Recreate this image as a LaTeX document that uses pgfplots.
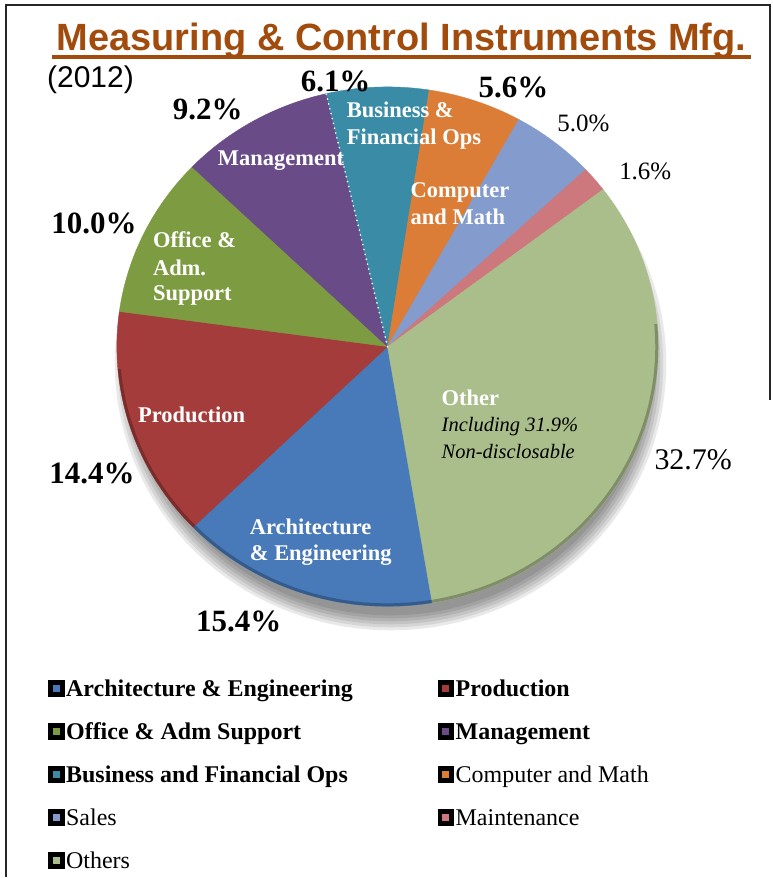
\documentclass[border=0pt]{standalone}
\usepackage{pgfplots}
\pgfplotsset{compat=1.18}
\usepackage{fontspec}
\setmainfont{Liberation Serif}
\newfontfamily\arialfont{Liberation Sans}

\definecolor{archblue}{HTML}{487AB9}
\definecolor{prodred}{HTML}{A33C3A}
\definecolor{officegreen}{HTML}{7D9B41}
\definecolor{mgmtpurple}{HTML}{694B87}
\definecolor{bizteal}{HTML}{3A8CA6}
\definecolor{comporange}{HTML}{DC7D37}
\definecolor{salesblue}{HTML}{839BCD}
\definecolor{maintpink}{HTML}{CD787D}
\definecolor{othergreen}{HTML}{AABE8C}
\definecolor{titlecol}{HTML}{A14B0C}

\newcommand{\fsz}[1]{\fontsize{#1pt}{#1pt}\selectfont}
% legend key: black square with a small coloured square inside
\newcommand{\legsq}[3]{%
  \fill[black] (axis cs:#1-8.5,#2-8.5) rectangle (axis cs:#1+8.5,#2+8.5);
  \fill[#3] (axis cs:#1-3.5,#2-3.5) rectangle (axis cs:#1+3.5,#2+3.5);}

\begin{document}
\begin{tikzpicture}[every node/.append style={inner sep=0pt}]
\begin{axis}[x=1pt, y=1pt, xmin=0, xmax=773, ymin=0, ymax=878,
    y dir=reverse, hide axis, clip=false]
\path (axis cs:0,0) rectangle (axis cs:773,878);

% frame
\draw[line width=2pt, black!85] (axis cs:6,878) -- (axis cs:6,5.5)
  -- (axis cs:771,5.5) -- (axis cs:771,400);

% soft shadow under the pie
\pgfplotsinvokeforeach{0,3,6,9,12,15}{
  \fill[black, opacity=0.085] (axis cs:391,364)
    ellipse [x radius={(276-#1)*1pt}, y radius={(267-#1)*1pt}];
}

% slices, clockwise from the bottom
\pgfmathsetmacro{\ang}{-80.5}
\foreach \v/\c [count=\i] in {15.4/archblue, 14.4/prodred, 10.0/officegreen,
    9.2/mgmtpurple, 6.1/bizteal, 5.6/comporange, 5.0/salesblue,
    1.6/maintpink, 32.7/othergreen}{
  \pgfmathsetmacro{\endang}{\ang-3.6*\v}
  \edef\temp{\noexpand\fill[\c, draw=\c, line width=0.4pt] (axis cs:388,347)
    -- ++(\ang:271pt and 260pt)
    arc[start angle=\ang, end angle=\endang, x radius=271pt, y radius=260pt]
    -- cycle;}
  \temp
  \ifnum\i=4 \xdef\dotang{\endang}\fi
  \global\let\ang\endang
}
\edef\temp{\noexpand\draw[white, line width=1.8pt, line cap=round,
    dash pattern=on 0pt off 5pt] (axis cs:388,347) -- ++(\dotang:271pt and 260pt);}
\temp

% darker lower rim
\draw[black, opacity=0.25, line width=3pt] (axis cs:388,347) ++(-175:269.5pt and 258.5pt)
  arc[start angle=-175, end angle=5, x radius=269.5pt, y radius=258.5pt];

% title
\node[anchor=base, text=titlecol, font=\arialfont\bfseries\fsz{38}]
  at (axis cs:402,51) {Measuring \& Control Instruments Mfg.};
\draw[titlecol, line width=3.5pt] (axis cs:52,57) -- (axis cs:752,57);
\node[anchor=base west, font=\arialfont\fsz{30}] at (axis cs:47,88) {(2012)};

% percentages
\node[font=\bfseries\fsz{31}] at (axis cs:208,110) {9.2\%};
\node[font=\bfseries\fsz{31}] at (axis cs:336,82) {6.1\%};
\node[font=\bfseries\fsz{31}] at (axis cs:514,88) {5.6\%};
\node[font=\fsz{25}] at (axis cs:584,124) {5.0\%};
\node[font=\fsz{25}] at (axis cs:646,172) {1.6\%};
\node[font=\bfseries\fsz{31}] at (axis cs:94,224) {10.0\%};
\node[font=\bfseries\fsz{31}] at (axis cs:92,474) {14.4\%};
\node[font=\bfseries\fsz{31}] at (axis cs:239,622) {15.4\%};
\node[font=\fsz{30}] at (axis cs:694,460) {32.7\%};

% slice labels
\begin{scope}[every node/.append style={anchor=base west, text=white, font=\bfseries\fsz{22.5}}]
\node at (axis cs:347,118) {Business \&};
\node at (axis cs:347,145) {Financial Ops};
\node at (axis cs:218,166) {Management};
\node at (axis cs:411,198) {Computer};
\node at (axis cs:411,225) {and Math};
\node at (axis cs:153,248) {Office \&};
\node at (axis cs:153,276) {Adm.};
\node at (axis cs:153,301) {Support};
\node at (axis cs:138,423) {Production};
\node at (axis cs:250,535) {Architecture};
\node at (axis cs:250,561) {\& Engineering};
\node at (axis cs:442,406) {Other};
\end{scope}
\node[anchor=base west, font=\itshape\fsz{20.5}] at (axis cs:442,432) {Including 31.9\%};
\node[anchor=base west, font=\itshape\fsz{20.5}] at (axis cs:442,459) {Non-disclosable};

% legend
\legsq{56.5}{689}{archblue}
\legsq{56.5}{732}{officegreen}
\legsq{56.5}{775}{bizteal}
\legsq{56.5}{818}{salesblue}
\legsq{56.5}{861}{othergreen}
\legsq{446.5}{689}{prodred}
\legsq{446.5}{732}{mgmtpurple}
\legsq{446.5}{775}{comporange}
\legsq{446.5}{818}{maintpink}
\begin{scope}[every node/.append style={anchor=base west, font=\fsz{24}}]
\node[font=\bfseries\fsz{24}] at (axis cs:66,697) {Architecture \& Engineering};
\node[font=\bfseries\fsz{24}] at (axis cs:66,740) {Office \& Adm Support};
\node[font=\bfseries\fsz{24}] at (axis cs:66,783) {Business and Financial Ops};
\node at (axis cs:66,826) {Sales};
\node at (axis cs:66,869) {Others};
\node[font=\bfseries\fsz{24}] at (axis cs:456,697) {Production};
\node[font=\bfseries\fsz{24}] at (axis cs:456,740) {Management};
\node at (axis cs:456,783) {Computer and Math};
\node at (axis cs:456,826) {Maintenance};
\end{scope}
\end{axis}
\end{tikzpicture}
\end{document}
